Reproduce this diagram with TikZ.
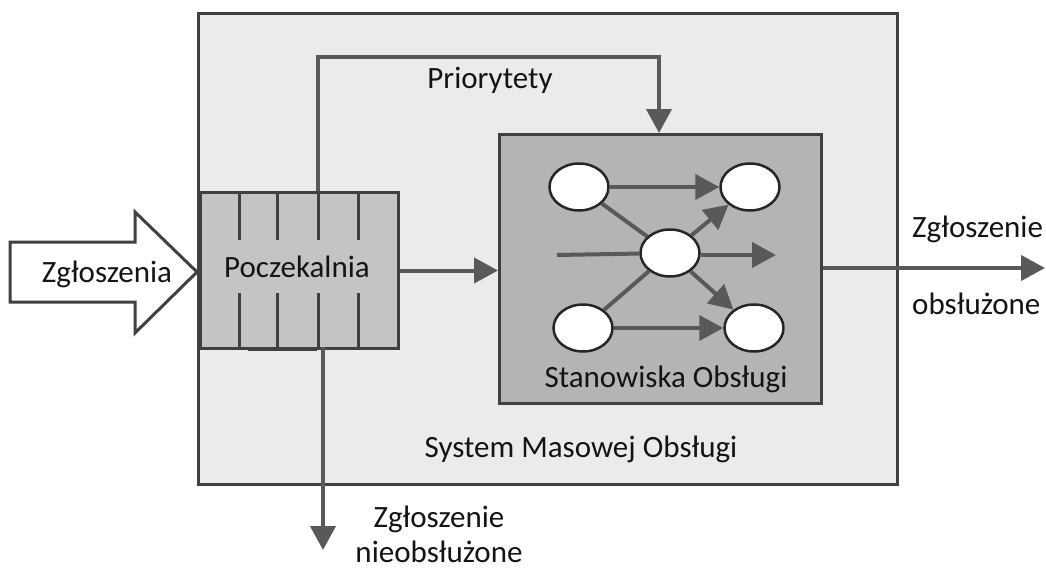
\documentclass[tikz,border=0pt]{standalone}
\usepackage{fontspec}
\setmainfont{Carlito}
\usetikzlibrary{arrows.meta,shapes.geometric}
\definecolor{sysfill}{HTML}{EBEBEB}
\definecolor{qfill}{HTML}{C4C4C4}
\definecolor{srvfill}{HTML}{B4B4B4}
\definecolor{boxline}{HTML}{404040}
\definecolor{arrowc}{HTML}{595959}
\definecolor{circline}{HTML}{262626}
\definecolor{txt}{HTML}{141414}
\begin{document}
\begin{tikzpicture}[x=1pt,y=-1pt,
  lbl/.style={font=\fontsize{31}{35}\selectfont, text=txt, inner sep=0pt},
  boxnode/.style={draw=boxline, line width=3pt, inner sep=0pt, anchor=north west},
  divline/.style={draw=boxline, line width=3pt},
  conn/.style={draw=arrowc, line width=4pt},
  arr/.style={conn, -{Triangle[length=24pt,width=25pt]}},
  srvcirc/.style={draw=circline, line width=2.5pt, fill=white, ellipse,
    minimum width=59pt, minimum height=47pt, inner sep=0pt}]
\useasboundingbox (0,0) rectangle (1046,570);
\fill[white] (0,0) rectangle (1046,570);

% outer system box
\node[boxnode, fill=sysfill, minimum width=699pt, minimum height=471pt] (sys) at (197,12) {};
\node[lbl, anchor=base] (syslbl) at (581,457) {System Masowej Obsługi};

% queue
\node[boxnode, fill=qfill, minimum width=198pt, minimum height=156pt] (q) at (199,191) {};
\foreach \x in {239,277,318,358} {
  \draw[divline] (\x,191) -- (\x,240);
  \draw[divline] (\x,293) -- (\x,347);
}
\draw[divline] (248,349.5) -- (317,349.5);
\node[lbl, anchor=base] (qlbl) at (297,277) {Poczekalnia};

% service stations box
\node[boxnode, fill=srvfill, minimum width=322pt, minimum height=269pt] (srv) at (498,133) {};
\node[lbl, anchor=base] (srvlbl) at (666,387) {Stanowiska Obsługi};

\node[srvcirc] (A) at (579,187) {};
\node[srvcirc] (B) at (750,187) {};
\node[srvcirc] (C) at (670,253) {};
\node[srvcirc] (D) at (583,328) {};
\node[srvcirc] (E) at (754,328) {};
\coordinate (cin) at (557,255);
\coordinate (cout) at (776,255);

\draw[conn] (cin) -- (C);
\draw[conn] (A) -- (C);
\draw[conn] (D) -- (C);
\draw[arr] (A) -- (B);
\draw[arr] (D) -- (E);
\draw[arr] (C) -- (B);
\draw[arr] (C) -- (E);
\draw[arr] (C.east |- cout) -- (cout);

% queue -> service
\draw[arr] (q.east) -- (q.east -| srv.west);

% priorities
\coordinate (pstart) at (318,191);
\coordinate (pcorner) at (659,57);
\draw[arr] (pstart) |- (pcorner) -- (pcorner |- srv.north);
\node[lbl, anchor=base] (prlbl) at (490,88) {Priorytety};

% served output
\coordinate (outend) at (1045,268);
\draw[arr] (srv.east |- outend) -- (outend);
\node[lbl, anchor=base west] (out1) at (912,237) {Zgłoszenie};
\node[lbl, anchor=base west] (out2) at (912,314) {obsłużone};

% not served output
\coordinate (dtop) at (323,347);
\coordinate (dend) at (323,550);
\draw[arr] (dtop) -- (dend);
\node[lbl, anchor=base, align=center] (droplbl) at (439,562) {Zgłoszenie\\nieobsłużone};

% incoming hollow arrow
\draw[draw=boxline, line width=3pt, fill=white, line join=miter]
  (10,242) -- (135,242) -- (135,212) -- (197,272) -- (135,333) -- (135,302) -- (10,302) -- cycle;
\node[lbl, anchor=base] (inlbl) at (107,282) {Zgłoszenia};
\end{tikzpicture}
\end{document}
